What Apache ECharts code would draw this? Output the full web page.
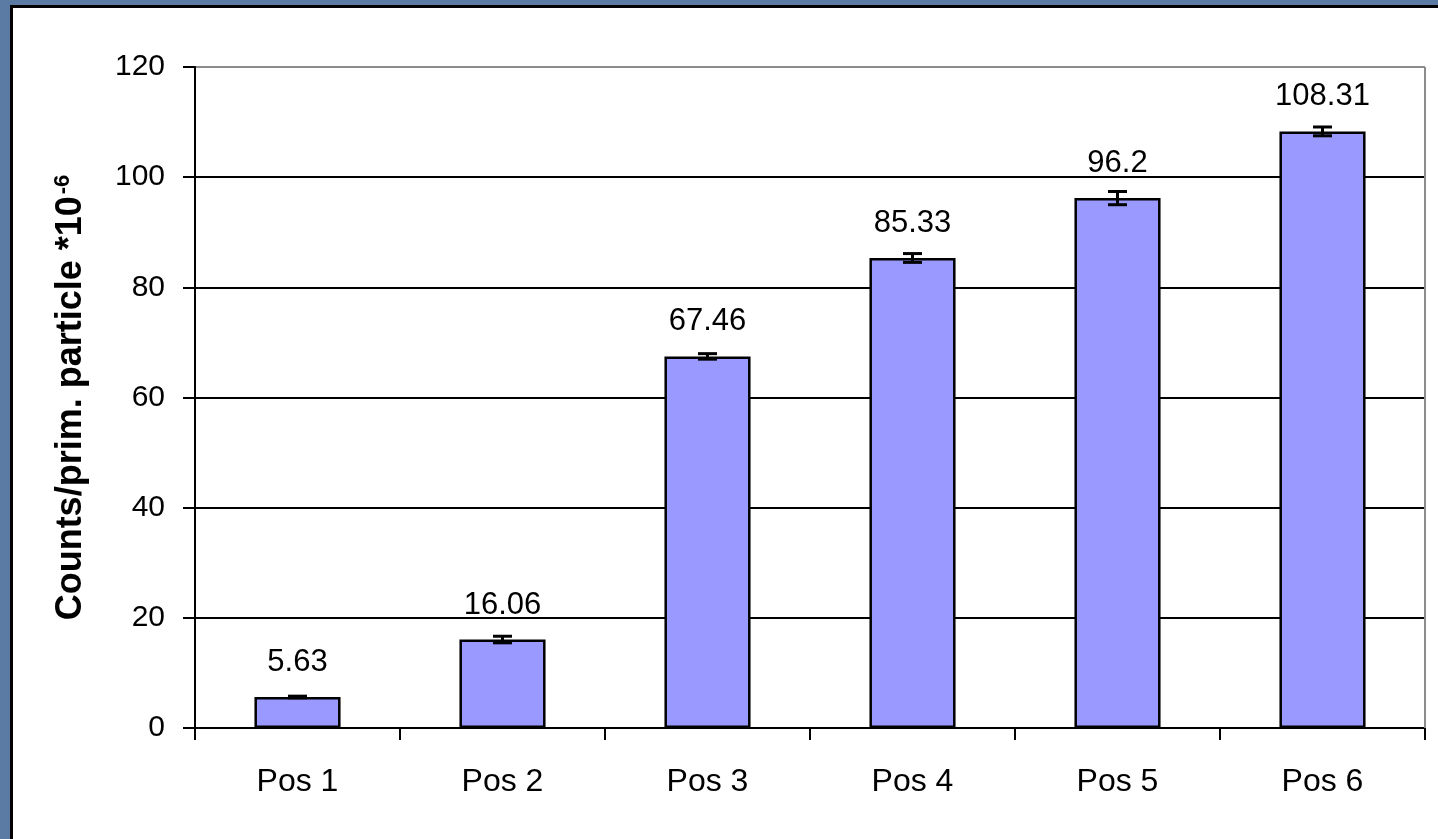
<!DOCTYPE html>
<html>
<head>
<meta charset="utf-8">
<script src="https://cdn.jsdelivr.net/npm/echarts@6/dist/echarts.min.js"></script>
<style>
  html, body { margin: 0; padding: 0; background: #5b7aa4; }
  #chart { width: 1438px; height: 839px; }
</style>
</head>
<body>
<div id="chart"></div>
<script>
// Categories and measured counts per primary particle (x 10^-6)
const categories = ['Pos 1', 'Pos 2', 'Pos 3', 'Pos 4', 'Pos 5', 'Pos 6'];
const counts = [5.63, 16.06, 67.46, 85.33, 96.2, 108.31];
const errors = [0.15, 0.6, 0.5, 0.8, 1.2, 0.8];
const yTicks = { min: 0, max: 120, step: 20 };

const FONT = '"Liberation Sans", Arial, sans-serif';
const chart = echarts.init(document.getElementById('chart'), null, { renderer: 'canvas' });

const errorData = counts.map((v, i) => [i, v - errors[i], v + errors[i]]);

chart.setOption({
  animation: false,
  textStyle: { fontFamily: FONT },
  graphic: [
    {
      type: 'rect', z: -10, silent: true,
      shape: { x: 11.5, y: 6.5, width: 1500, height: 900 },
      style: { fill: '#ffffff', stroke: '#000000', lineWidth: 3 }
    },
    {
      type: 'line', z: 10, silent: true,
      shape: { x1: 1425, y1: 67, x2: 1425, y2: 728 },
      style: { stroke: '#8c8c8c', lineWidth: 2 }
    }
  ],
  grid: { left: 195, top: 67, right: 13, bottom: 111, containLabel: false },
  xAxis: {
    type: 'category',
    data: categories,
    boundaryGap: true,
    axisLine: { lineStyle: { color: '#000', width: 2 } },
    axisTick: { show: true, length: 12, inside: false, alignWithLabel: false, lineStyle: { color: '#000', width: 2 } },
    axisLabel: { color: '#000', fontSize: 32, fontFamily: FONT, margin: 38 }
  },
  yAxis: {
    type: 'value',
    min: yTicks.min, max: yTicks.max, interval: yTicks.step,
    name: '{a|Counts/prim. particle *10}{b|-6}',
    nameLocation: 'middle',
    nameRotate: 90,
    nameGap: 106,
    nameTextStyle: {
      rich: {
        a: { fontSize: 36, fontWeight: 'bold', color: '#000', fontFamily: FONT, lineHeight: 36 },
        b: { fontSize: 22, fontWeight: 'bold', color: '#000', fontFamily: FONT, lineHeight: 36, padding: [0, 0, 17, 2] }
      }
    },
    axisLine: { show: true, lineStyle: { color: '#000', width: 2 } },
    axisTick: { show: true, length: 12, inside: false, lineStyle: { color: '#000', width: 2 } },
    axisLabel: { color: '#000', fontSize: 30, fontFamily: FONT, margin: 30 },
    splitLine: {
      show: true,
      lineStyle: { color: ['#000', '#000', '#000', '#000', '#000', '#000', '#8c8c8c'], width: 2 }
    }
  },
  series: [
    {
      type: 'bar',
      data: counts,
      barWidth: '42%',
      itemStyle: { color: '#9999ff', borderColor: '#000', borderWidth: 2.5 },
      label: {
        show: true, position: 'top', distance: 19,
        color: '#000', fontSize: 31, fontFamily: FONT,
        formatter: p => String(p.value)
      },
      z: 2
    },
    {
      type: 'custom',
      z: 5,
      data: errorData,
      renderItem: function (params, api) {
        const x = api.value(0);
        const lo = api.coord([x, api.value(1)]);
        const hi = api.coord([x, api.value(2)]);
        const half = 9.5;
        const st = { stroke: '#000', lineWidth: 3, fill: null };
        return {
          type: 'group',
          children: [
            { type: 'line', shape: { x1: lo[0], y1: lo[1], x2: hi[0], y2: hi[1] }, style: st },
            { type: 'line', shape: { x1: lo[0] - half, y1: lo[1], x2: lo[0] + half, y2: lo[1] }, style: st },
            { type: 'line', shape: { x1: hi[0] - half, y1: hi[1], x2: hi[0] + half, y2: hi[1] }, style: st }
          ]
        };
      }
    }
  ]
});
</script>
</body>
</html>
